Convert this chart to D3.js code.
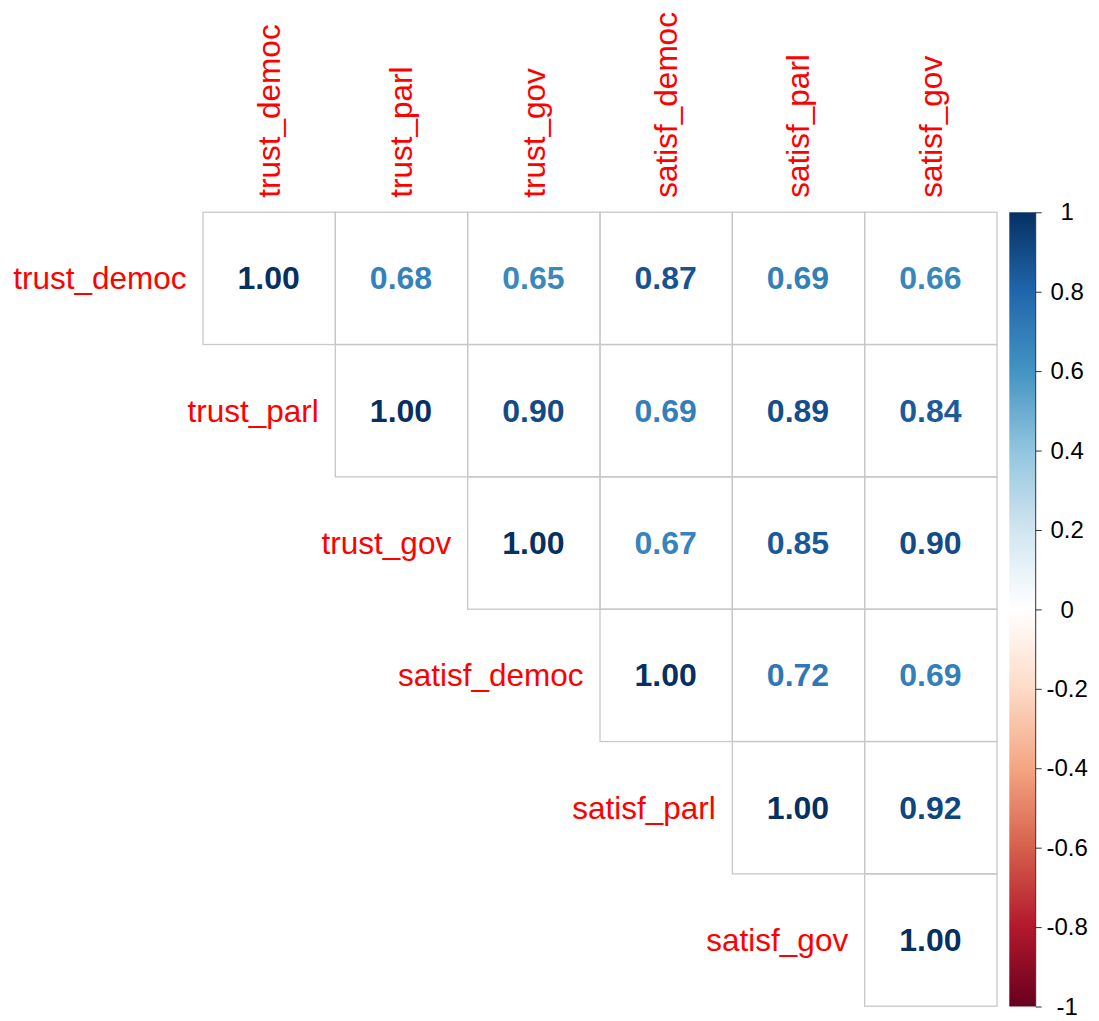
<!DOCTYPE html>
<html>
<head>
<meta charset="utf-8">
<script src="https://cdn.jsdelivr.net/npm/d3@7"></script>
<style>
  html, body { margin: 0; padding: 0; background: #fff; }
  svg { display: block; }
</style>
</head>
<body>
<svg id="chart" width="1099" height="1021"></svg>
<script>
// Variables (rows / columns of the correlation matrix)
const variables = ["trust_democ", "trust_parl", "trust_gov", "satisf_democ", "satisf_parl", "satisf_gov"];

// Upper-triangle correlations, one array per row (starting at the diagonal)
const row_trust_democ  = [1.00, 0.68, 0.65, 0.87, 0.69, 0.66];
const row_trust_parl   = [1.00, 0.90, 0.69, 0.89, 0.84];
const row_trust_gov    = [1.00, 0.67, 0.85, 0.90];
const row_satisf_democ = [1.00, 0.72, 0.69];
const row_satisf_parl  = [1.00, 0.92];
const row_satisf_gov   = [1.00];
const upperRows = [row_trust_democ, row_trust_parl, row_trust_gov, row_satisf_democ, row_satisf_parl, row_satisf_gov];

// Colour legend ticks
const legendTicks = [1, 0.8, 0.6, 0.4, 0.2, 0, -0.2, -0.4, -0.6, -0.8, -1];

// RdBu diverging palette stops
const paletteStops = ["#67001F", "#B2182B", "#D6604D", "#F4A582", "#FDDBC7", "#FFFFFF",
                      "#D1E5F0", "#92C5DE", "#4393C3", "#2166AC", "#053061"];

const FONT = "'Liberation Sans', Arial, Helvetica, sans-serif";
const svg = d3.select("#chart");

const gridLeft = 202.5, gridTop = 211.7, gridSize = 794;

const x = d3.scaleBand().domain(variables).range([gridLeft, gridLeft + gridSize]);
const y = d3.scaleBand().domain(variables).range([gridTop, gridTop + gridSize]);
const color = d3.scaleLinear()
  .domain(d3.range(paletteStops.length).map(i => -1 + 2 * i / (paletteStops.length - 1)))
  .range(paletteStops)
  .interpolate(d3.interpolateRgb);

// Flatten upper triangle into cells
const cells = [];
upperRows.forEach((row, i) => {
  row.forEach((v, k) => {
    const j = i + k;
    cells.push({ r: variables[i], c: variables[j], v });
  });
});

// Cell borders
svg.append("g").selectAll("rect").data(cells).join("rect")
  .attr("x", d => x(d.c) + 0.5)
  .attr("y", d => y(d.r) + 0.5)
  .attr("width", x.bandwidth())
  .attr("height", y.bandwidth())
  .attr("fill", "none")
  .attr("stroke", "#c8c8c8")
  .attr("stroke-width", 1.3);

// Correlation numbers
svg.append("g").selectAll("text").data(cells).join("text")
  .attr("x", d => x(d.c) + x.bandwidth() / 2)
  .attr("y", d => y(d.r) + y.bandwidth() / 2)
  .attr("dy", "0.36em")
  .attr("text-anchor", "middle")
  .attr("font-family", FONT)
  .attr("font-weight", "bold")
  .attr("font-size", 32)
  .attr("fill", d => color(d.v))
  .text(d => d.v.toFixed(2));

// Row labels (left of each row's diagonal cell)
svg.append("g").selectAll("text").data(variables).join("text")
  .attr("x", d => x(d) - 16)
  .attr("y", d => y(d) + y.bandwidth() / 2)
  .attr("dy", "0.36em")
  .attr("text-anchor", "end")
  .attr("font-family", FONT)
  .attr("font-size", 31.5)
  .attr("fill", "#ff0000")
  .text(d => d);

// Column labels (rotated, above the grid)
svg.append("g").selectAll("text").data(variables).join("text")
  .attr("transform", d => `translate(${x(d) + x.bandwidth() / 2},${gridTop - 14}) rotate(-90)`)
  .attr("dy", "0.36em")
  .attr("text-anchor", "start")
  .attr("font-family", FONT)
  .attr("font-size", 31.5)
  .attr("fill", "#ff0000")
  .text(d => d);

// Colour legend
const barX = 1009.3, barW = 26.4, barTop = 212.3, barBottom = 1006.5;
const ly = d3.scaleLinear().domain([1, -1]).range([barTop, barBottom]);
const defs = svg.append("defs");
const grad = defs.append("linearGradient")
  .attr("id", "legendGrad").attr("x1", 0).attr("y1", 1).attr("x2", 0).attr("y2", 0);
d3.range(0, 101).forEach(k => {
  const v = -1 + 2 * k / 100;
  grad.append("stop").attr("offset", `${k}%`).attr("stop-color", color(v));
});
svg.append("rect")
  .attr("x", barX).attr("y", barTop)
  .attr("width", barW).attr("height", barBottom - barTop)
  .attr("fill", "url(#legendGrad)");

const axis = d3.axisRight(ly).tickValues(legendTicks).tickSize(6).tickFormat(d => String(d));
const ag = svg.append("g").attr("transform", `translate(${barX + barW},0)`).call(axis);
ag.select(".domain").attr("stroke", "#333").attr("d", `M0,${barTop}V${barBottom}`);
ag.selectAll(".tick line").attr("stroke", "#333");
ag.selectAll(".tick text")
  .attr("x", 31.5)
  .attr("text-anchor", "middle")
  .attr("font-family", FONT)
  .attr("font-size", 24)
  .attr("fill", "#000");
</script>
</body>
</html>
